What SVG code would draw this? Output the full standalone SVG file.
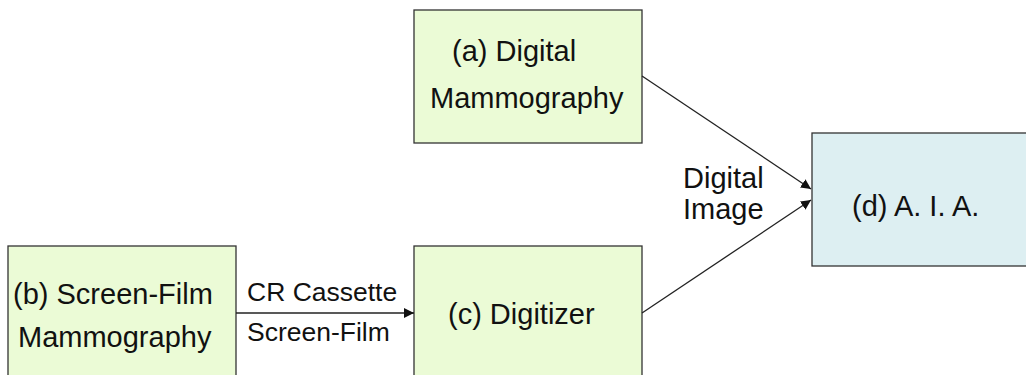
<svg xmlns="http://www.w3.org/2000/svg" width="1026" height="375" viewBox="0 0 1026 375">
<defs>
<style>
.box{stroke:#333;stroke-width:1.3}
.g{fill:#EBFBD6}
.b{fill:#DDEFF2}
.t{font-family:"Liberation Sans",Arial,sans-serif;font-size:29px;fill:#111}
.s{font-family:"Liberation Sans",Arial,sans-serif;font-size:26.5px;fill:#111}
.c{stroke:#222;stroke-width:1.3;fill:none;marker-end:url(#ah)}
</style>
<marker id="ah" viewBox="0 0 10 10" refX="10" refY="5" markerWidth="10" markerHeight="10" markerUnits="userSpaceOnUse" orient="auto">
<path d="M0,0 L10,5 L0,10 Z" fill="#111"/>
</marker>
</defs>
<rect width="1026" height="375" fill="#fff"/>
<g id="node-a">
<rect class="box g" x="414" y="10" width="228" height="133"/>
<text class="t" x="452" y="61">(a) Digital</text>
<text class="t" x="430" y="108">Mammography</text>
</g>
<g id="node-b">
<rect class="box g" x="8" y="246" width="228" height="140"/>
<text class="t" x="13" y="304">(b) Screen-Film</text>
<text class="t" x="18" y="347">Mammography</text>
</g>
<g id="node-c">
<rect class="box g" x="414" y="246" width="228" height="140"/>
<text class="t" x="448" y="324">(c) Digitizer</text>
</g>
<g id="node-d">
<rect class="box b" x="812" y="133" width="220" height="133"/>
<text class="t" x="852" y="216">(d) A. I. A.</text>
</g>
<g id="connectors">
<line class="c" x1="642" y1="76" x2="811" y2="189"/>
<line class="c" x1="642" y1="313" x2="811" y2="200"/>
<line class="c" x1="236" y1="313" x2="414" y2="313"/>
<text class="t" x="683" y="188">Digital</text>
<text class="t" x="683" y="219">Image</text>
<text class="s" x="247" y="301">CR Cassette</text>
<text class="s" x="247" y="341">Screen-Film</text>
</g>
</svg>
